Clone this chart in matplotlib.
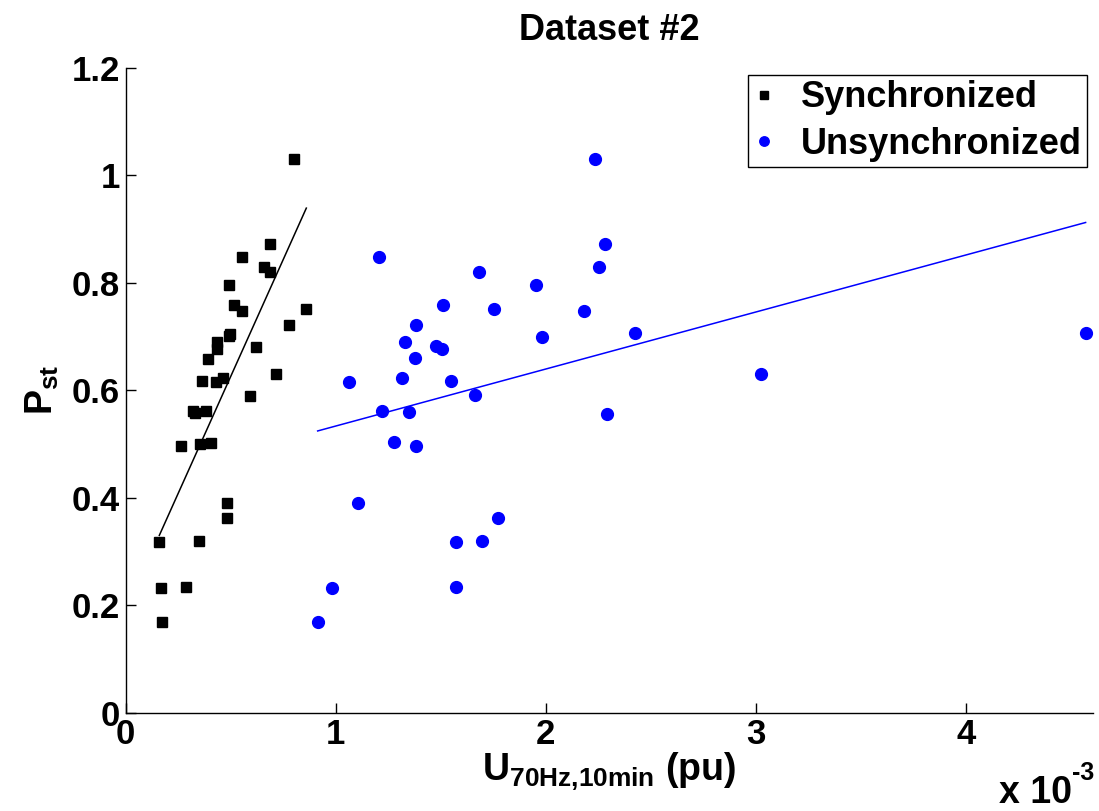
import numpy as np
import matplotlib
matplotlib.use("Agg")
import matplotlib.pyplot as plt
from matplotlib.ticker import FuncFormatter

plt.rcParams['font.family'] = ['Liberation Sans', 'DejaVu Sans']
plt.rcParams['font.weight'] = 'bold'
plt.rcParams['axes.unicode_minus'] = False
plt.rcParams['mathtext.fontset'] = 'custom'
plt.rcParams['mathtext.rm'] = 'Liberation Sans:bold'
plt.rcParams['mathtext.bf'] = 'Liberation Sans:bold'
plt.rcParams['mathtext.it'] = 'Liberation Sans:bold'

# U_70Hz,10min in units of 1e-3 pu, Pst dimensionless
sync_u = [0.802, 0.686, 0.552, 0.659, 0.687, 0.490, 0.516, 0.552, 0.860, 0.779,
          0.497, 0.490, 0.435, 0.436, 0.620, 0.390, 0.717, 0.365, 0.430, 0.462,
          0.592, 0.322, 0.332, 0.382, 0.263, 0.354, 0.406, 0.484, 0.482, 0.160,
          0.349, 0.170, 0.289, 0.174]
sync_pst = [1.030, 0.872, 0.847, 0.829, 0.820, 0.796, 0.759, 0.747, 0.752, 0.721,
            0.705, 0.700, 0.690, 0.677, 0.681, 0.659, 0.630, 0.618, 0.616, 0.622,
            0.590, 0.561, 0.557, 0.562, 0.496, 0.500, 0.502, 0.390, 0.363, 0.317,
            0.319, 0.232, 0.234, 0.169]

unsync_u = [1.206, 1.682, 1.955, 1.511, 1.755, 1.984, 1.381, 1.331, 1.479, 1.506,
            1.379, 1.063, 1.316, 1.551, 1.665, 1.220, 1.348, 1.279, 1.384, 1.105,
            1.774, 1.574, 1.698, 0.981, 1.571, 0.914, 2.233, 2.282, 2.252, 2.181,
            2.424, 3.027, 2.290, 4.571]
unsync_pst = [0.847, 0.820, 0.796, 0.759, 0.752, 0.699, 0.721, 0.690, 0.682, 0.676,
              0.660, 0.616, 0.622, 0.618, 0.591, 0.562, 0.560, 0.503, 0.496, 0.390,
              0.363, 0.317, 0.320, 0.232, 0.234, 0.169, 1.030, 0.872, 0.829, 0.747,
              0.706, 0.630, 0.556, 0.706]

fig = plt.figure(figsize=(10.99, 8.11), dpi=100)
ax = fig.add_axes([0.1144, 0.1212, 0.8801, 0.7953])

ax.plot(sync_u, sync_pst, 's', color='k', ms=7.5, label='Synchronized')
ax.plot(unsync_u, unsync_pst, 'o', color='b', mec='b', ms=8.5, label='Unsynchronized')

# least squares lines over the range of each set
for u, p, c in [(sync_u, sync_pst, 'k'), (unsync_u, unsync_pst, 'b')]:
    k, b = np.polyfit(u, p, 1)
    xs = np.array([min(u), max(u)])
    ax.plot(xs, k * xs + b, '-', color=c, lw=1.1)

ax.set_xlim(0, 4.606)
ax.set_ylim(0, 1.2)
ax.set_xticks([0, 1, 2, 3, 4])
ax.set_yticks([0, 0.2, 0.4, 0.6, 0.8, 1.0, 1.2])
ax.yaxis.set_major_formatter(FuncFormatter(lambda v, pos: '%g' % v))
ax.tick_params(direction='in', length=7, width=1, labelsize=25, pad=4)
for s in ['top', 'right']:
    ax.spines[s].set_visible(False)
for s in ['left', 'bottom']:
    ax.spines[s].set_linewidth(1.0)

ax.set_title('Dataset #2', fontsize=26, fontweight='bold', pad=20)
ax.set_xlabel('U$_{\\mathbf{70Hz{,}10min}}$ (pu)', fontsize=27, fontweight='bold', labelpad=0)
ax.set_ylabel('P$_{\\mathbf{st}}$', fontsize=27, fontweight='bold', labelpad=8)

# axis multiplier, written as plain text so the exponent keeps a hyphen
mult = ax.text(0.978, -0.14, 'x 10', transform=ax.transAxes,
               ha='right', va='baseline', fontsize=27, fontweight='bold')
ax.annotate('-3', xy=(1.0, 0.72), xycoords=mult, ha='left', va='bottom',
            fontsize=18, fontweight='bold')

leg = ax.legend(loc='upper right', bbox_to_anchor=(0.9937, 0.989), borderaxespad=0,
                fontsize=26, handlelength=0.6, handletextpad=0.7, borderpad=0.15,
                labelspacing=0.32, markerscale=0.8, fancybox=False, framealpha=1)
leg.get_frame().set_edgecolor('k')
leg.get_frame().set_linewidth(1.0)

fig.savefig('out.png', dpi=100)
